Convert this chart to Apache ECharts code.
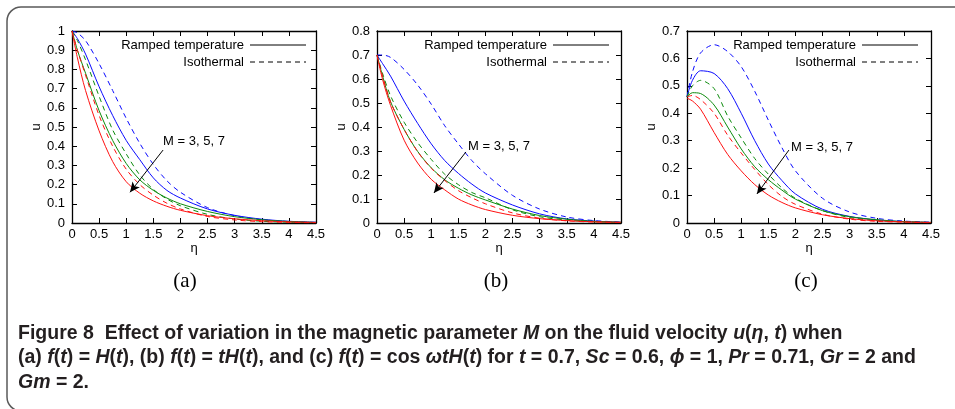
<!DOCTYPE html>
<html>
<head>
<meta charset="utf-8">
<script src="https://cdn.jsdelivr.net/npm/echarts@6/dist/echarts.min.js"></script>
<style>
html, body { margin: 0; padding: 0; background: #fff; }
#chart { width: 955px; height: 409px; }
</style>
</head>
<body>
<div id="chart"></div>
<script>
// eta grid the curves were read at
var eta = [0, 0.1, 0.25, 0.5, 0.75, 1, 1.25, 1.5, 1.75, 2, 2.5, 3, 3.5, 4, 4.5];

// (a) f(t) = H(t)
var rampA3 = [1, 0.96, 0.88, 0.71, 0.56, 0.43, 0.33, 0.235, 0.17, 0.13, 0.073, 0.04, 0.02, 0.009, 0.004];
var isoA3  = [1, 0.99, 0.95, 0.83, 0.69, 0.545, 0.415, 0.305, 0.22, 0.16, 0.08, 0.038, 0.017, 0.007, 0.003];
var rampA5 = [1, 0.9, 0.78, 0.585, 0.43, 0.31, 0.225, 0.17, 0.13, 0.1, 0.06, 0.033, 0.017, 0.008, 0.003];
var isoA5  = [1, 0.95, 0.85, 0.66, 0.485, 0.36, 0.25, 0.175, 0.125, 0.09, 0.045, 0.021, 0.009, 0.004, 0.002];
var rampA7 = [1, 0.86, 0.69, 0.48, 0.32, 0.215, 0.155, 0.115, 0.087, 0.066, 0.038, 0.022, 0.012, 0.006, 0.003];
var isoA7  = [1, 0.9, 0.77, 0.56, 0.4, 0.28, 0.2, 0.145, 0.103, 0.073, 0.034, 0.016, 0.007, 0.003, 0.001];

// (b) f(t) = tH(t)
var rampB3 = [0.7, 0.665, 0.612, 0.508, 0.415, 0.33, 0.26, 0.207, 0.162, 0.125, 0.075, 0.038, 0.017, 0.008, 0.003];
var isoB3  = [0.7, 0.7, 0.69, 0.64, 0.575, 0.495, 0.405, 0.33, 0.26, 0.205, 0.115, 0.058, 0.025, 0.01, 0.004];
var rampB5 = [0.7, 0.615, 0.505, 0.39, 0.298, 0.23, 0.18, 0.145, 0.117, 0.096, 0.058, 0.031, 0.016, 0.007, 0.003];
var isoB5  = [0.7, 0.625, 0.53, 0.42, 0.335, 0.265, 0.203, 0.16, 0.127, 0.105, 0.055, 0.026, 0.012, 0.005, 0.002];
var rampB7 = [0.7, 0.6, 0.49, 0.345, 0.25, 0.182, 0.138, 0.1, 0.075, 0.056, 0.032, 0.018, 0.01, 0.005, 0.003];
var isoB7  = [0.7, 0.615, 0.505, 0.39, 0.297, 0.228, 0.177, 0.135, 0.105, 0.08, 0.042, 0.02, 0.009, 0.004, 0.002];

// (c) f(t) = cos(wt)H(t)
var rampC3 = [0.46, 0.52, 0.555, 0.545, 0.49, 0.4, 0.3, 0.215, 0.155, 0.106, 0.05, 0.024, 0.011, 0.005, 0.002];
var isoC3  = [0.46, 0.55, 0.62, 0.65, 0.625, 0.57, 0.48, 0.375, 0.275, 0.19, 0.09, 0.04, 0.017, 0.007, 0.003];
var rampC5 = [0.46, 0.475, 0.472, 0.43, 0.35, 0.27, 0.205, 0.158, 0.12, 0.087, 0.045, 0.023, 0.012, 0.005, 0.002];
var isoC5  = [0.46, 0.5, 0.52, 0.49, 0.39, 0.31, 0.235, 0.178, 0.128, 0.09, 0.045, 0.02, 0.009, 0.004, 0.002];
var rampC7 = [0.455, 0.445, 0.415, 0.33, 0.25, 0.19, 0.14, 0.102, 0.075, 0.055, 0.03, 0.016, 0.008, 0.004, 0.002];
var isoC7  = [0.46, 0.465, 0.45, 0.4, 0.32, 0.255, 0.195, 0.14, 0.097, 0.068, 0.032, 0.014, 0.006, 0.003, 0.001];

var yMaxes = [1, 0.8, 0.7];
// arrow "M = 3, 5, 7": [from, to] in (eta, u)
var arrowA = [[1.68, 0.38], [1.07, 0.16]];
var arrowB = [[1.64, 0.296], [1.05, 0.125]];
var arrowC = [[1.88, 0.266], [1.29, 0.106]];
var noteAt = [[1.68, 0.427], [1.68, 0.321], [1.92, 0.277]];
var noteText = 'M = 3, 5, 7';
var legendNames = ['Ramped temperature', 'Isothermal'];
var panelNames = ['(a)', '(b)', '(c)'];

var panels = [
    { ramp: [rampA3, rampA5, rampA7], iso: [isoA3, isoA5, isoA7], arrow: arrowA },
    { ramp: [rampB3, rampB5, rampB7], iso: [isoB3, isoB5, isoB7], arrow: arrowB },
    { ramp: [rampC3, rampC5, rampC7], iso: [isoC3, isoC5, isoC7], arrow: arrowC }
];
var colors = ['#0a0aff', '#0b8a0b', '#ff1010'];
var gridLefts = [72, 377, 687];
var keyStart = [250, 553, 862];   // legend key line x start per panel
var panelLabelX = [185, 496, 806];
var dash = [5, 4];
var font = 'Liberation Sans, Arial, sans-serif';

function pairs(ys) {
    var res = [];
    for (var i = 0; i < eta.length; i++) res.push([eta[i], ys[i]]);
    return res;
}

var myChart = echarts.init(document.getElementById('chart'));

var grids = [], xAxes = [], yAxes = [], series = [];
var tick = { show: true, inside: true, length: 5, lineStyle: { color: '#000', width: 1 } };
var axLine = { show: true, onZero: false, lineStyle: { color: '#000', width: 1.3 } };
var lab = { color: '#000', fontSize: 13, fontFamily: font };

for (var p = 0; p < 3; p++) {
    grids.push({ left: gridLefts[p], top: 31, width: 244, height: 192 });
    xAxes.push({
        type: 'value', gridIndex: p, min: 0, max: 4.5, interval: 0.5,
        name: 'η', nameLocation: 'middle', nameGap: 19,
        nameTextStyle: { color: '#000', fontSize: 13, fontFamily: font },
        axisLine: axLine, axisTick: tick, splitLine: { show: false },
        axisLabel: Object.assign({ margin: 5 }, lab)
    });
    xAxes.push({
        type: 'value', gridIndex: p, position: 'top', min: 0, max: 4.5, interval: 0.5,
        axisLine: axLine, axisTick: tick, splitLine: { show: false }, axisLabel: { show: false }
    });
    yAxes.push({
        type: 'value', gridIndex: p, min: 0, max: yMaxes[p], interval: 0.1,
        name: 'u', nameLocation: 'middle', nameGap: 29,
        nameTextStyle: { color: '#000', fontSize: 13, fontFamily: font },
        axisLine: axLine, axisTick: tick, splitLine: { show: false },
        axisLabel: Object.assign({ margin: 7 }, lab)
    });
    yAxes.push({
        type: 'value', gridIndex: p, position: 'right', min: 0, max: yMaxes[p], interval: 0.1,
        axisLine: axLine, axisTick: tick, splitLine: { show: false }, axisLabel: { show: false }
    });

    for (var m = 0; m < 3; m++) {
        series.push({
            type: 'line', name: 'ramp' + p + m, xAxisIndex: 2 * p, yAxisIndex: 2 * p,
            data: pairs(panels[p].ramp[m]), smooth: 0.3,
            symbol: 'none', silent: true,
            lineStyle: { color: colors[m], width: 1 }
        });
        series.push({
            type: 'line', name: 'iso' + p + m, xAxisIndex: 2 * p, yAxisIndex: 2 * p,
            data: pairs(panels[p].iso[m]), smooth: 0.3,
            symbol: 'none', silent: true,
            lineStyle: { color: colors[m], width: 1, type: dash }
        });
    }
    // arrow + note
    series.push({
        type: 'line', name: 'note' + p, xAxisIndex: 2 * p, yAxisIndex: 2 * p,
        data: [], symbol: 'none', silent: true,
        markLine: {
            silent: true, symbol: ['none', 'arrow'], symbolSize: [7, 10],
            label: { show: false },
            lineStyle: { color: '#000', width: 1, type: 'solid' },
            data: [[{ coord: panels[p].arrow[0] }, { coord: panels[p].arrow[1] }]]
        },
        markPoint: {
            silent: true, symbol: 'circle', symbolSize: 0,
            label: { show: true, position: 'right', distance: 0, formatter: noteText,
                     color: '#000', fontSize: 13, fontFamily: font },
            data: [{ coord: noteAt[p] }]
        }
    });
}

var capFont = { fontSize: 19.5, fontWeight: 'bold', fontFamily: 'Liberation Sans, Arial, sans-serif', fill: '#231f20' };
var capRich = { i: Object.assign({ fontStyle: 'italic' }, capFont) };
var capLines = [
    'Figure 8  Effect of variation in the magnetic parameter {i|M} on the fluid velocity {i|u}({i|η}, {i|t}) when',
    '(a) {i|f}({i|t}) = {i|H}({i|t}), (b) {i|f}({i|t}) = {i|tH}({i|t}), and (c) {i|f}({i|t}) = cos {i|ωtH}({i|t}) for {i|t} = 0.7, {i|Sc} = 0.6, {i|ϕ} = 1, {i|Pr} = 0.71, {i|Gr} = 2 and',
    '{i|Gm} = 2.'
];
var capY = [334, 358, 383];

var graphics = [{
    type: 'rect', silent: true,
    shape: { x: 7, y: 7, width: 1000, height: 404, r: 14 },
    style: { fill: 'none', stroke: '#5a5a5a', lineWidth: 1.5 }
}];
for (var k = 0; k < 3; k++) {
    graphics.push({
        type: 'text', x: panelLabelX[k], y: 281, silent: true,
        style: { text: panelNames[k], fontSize: 21, fontFamily: 'Liberation Serif, serif',
                 fill: '#000', align: 'center', verticalAlign: 'middle' }
    });
    graphics.push({
        type: 'text', x: 18, y: capY[k], silent: true,
        style: Object.assign({ text: capLines[k], rich: capRich, verticalAlign: 'middle' }, capFont)
    });
    // legend keys
    for (var r = 0; r < 2; r++) {
        var ly = 45 + r * 17;
        graphics.push({
            type: 'text', x: keyStart[k] - 6, y: ly, silent: true,
            style: { text: legendNames[r], fontSize: 13, fontFamily: font, fill: '#000',
                     align: 'right', verticalAlign: 'middle' }
        });
        graphics.push({
            type: 'line', silent: true,
            shape: { x1: keyStart[k], y1: ly, x2: keyStart[k] + 56, y2: ly },
            style: { stroke: '#000', lineWidth: 1, lineDash: r ? dash : null }
        });
    }
}

var option = {
    animation: false,
    backgroundColor: '#fff',
    grid: grids,
    xAxis: xAxes,
    yAxis: yAxes,
    series: series,
    graphic: graphics
};
myChart.setOption(option);
</script>
</body>
</html>
